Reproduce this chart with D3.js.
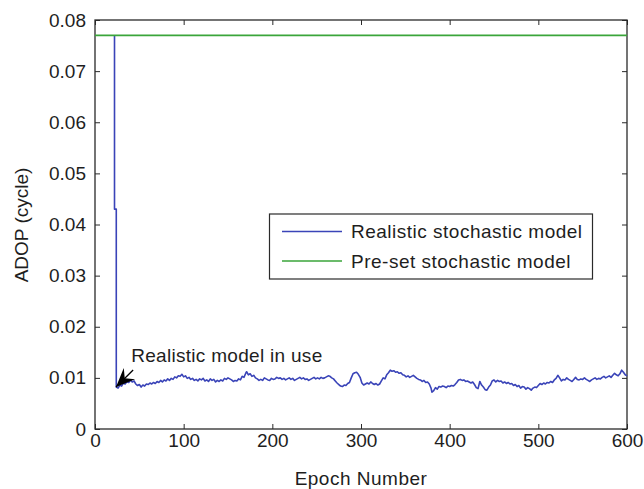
<!DOCTYPE html>
<html>
<head>
<meta charset="utf-8">
<script src="https://cdn.jsdelivr.net/npm/d3@7"></script>
<style>
  html, body { margin: 0; padding: 0; background: #fff; }
  svg { display: block; font-family: "Liberation Sans", Arial, sans-serif; }
</style>
</head>
<body>
<svg id="chart" width="644" height="489"></svg>
<script>
// ---------------- data ----------------
const xTicks = [0, 100, 200, 300, 400, 500, 600];
const yTicks = [0, 0.01, 0.02, 0.03, 0.04, 0.05, 0.06, 0.07, 0.08];
const seriesNames = ["Realistic stochastic model", "Pre-set stochastic model"];
const presetEpochs = [0, 600];
const presetValues = [0.077, 0.077];
const epochs = [22, 22, 24,
  24,26,28,30,32,34,36,38,40,42,44,46,48,50,52,54,56,58,60,62,64,66,68,70,72,74,76,78,80,82,84,86,88,90,92,94,96,98,
  100,102,104,106,108,110,112,114,116,118,120,122,124,126,128,130,132,134,136,138,140,142,144,146,148,150,152,154,156,158,
  160,162,164,166,168,170,171,173,175,177,179,181,183,185,187,189,191,193,195,197,199,201,203,205,207,209,211,213,215,217,
  219,221,223,225,227,229,231,233,235,237,239,241,243,245,247,249,251,253,255,257,259,261,263,265,267,269,271,273,275,277,
  279,281,283,285,287,289,291,293,295,297,299,301,303,305,307,309,311,313,315,317,319,321,323,325,327,329,331,333,335,337,
  339,341,343,345,347,349,351,353,355,357,359,361,363,365,367,369,371,373,375,377,379,380,382,384,386,388,390,392,394,396,
  398,400,402,404,406,408,410,412,414,416,418,420,422,424,426,428,430,432,434,436,438,440,442,444,446,448,450,452,454,456,
  458,460,462,464,466,468,470,472,474,476,478,480,482,484,486,488,490,492,494,496,498,500,502,504,506,508,510,512,514,516,
  518,520,522,524,526,528,530,532,534,536,538,540,542,544,546,548,550,552,554,556,558,560,562,564,566,568,570,572,574,576,
  578,580,582,584,586,588,590,592,594,596,598,600];
const adop = [0.077, 0.043, 0.043,
  0.0082,0.0080,0.0086,0.0084,0.0090,0.0088,0.0093,0.0091,0.0096,0.0092,0.0094,0.0088,0.0085,0.0087,0.0082,0.0086,0.0084,0.0088,0.0087,0.0090,0.0088,0.0091,0.0089,0.0093,0.0091,0.0095,0.0092,0.0096,0.0094,0.0098,0.0095,0.0099,0.0097,0.0102,0.0100,0.0104,0.0103,0.0107,
  0.0102,0.0104,0.0099,0.0101,0.0097,0.0099,0.0095,0.0097,0.0094,0.0098,0.0096,0.0099,0.0094,0.0096,0.0093,0.0098,0.0095,0.0097,0.0092,0.0095,0.0093,0.0096,0.0094,0.0099,0.0097,0.0100,0.0098,0.0096,0.0093,0.0095,
  0.0094,0.0098,0.0096,0.0103,0.0101,0.0109,0.0112,0.0106,0.0108,0.0103,0.0105,0.0100,0.0098,0.0095,0.0097,0.0095,0.0100,0.0098,0.0096,0.0095,0.0099,0.0097,0.0098,0.0101,0.0099,0.0100,0.0097,0.0099,0.0096,0.0098,
  0.0100,0.0097,0.0099,0.0095,0.0097,0.0099,0.0101,0.0098,0.0100,0.0097,0.0098,0.0095,0.0097,0.0099,0.0101,0.0098,0.0100,0.0098,0.0101,0.0099,0.0100,0.0102,0.0104,0.0103,0.0100,0.0098,0.0094,0.0090,0.0087,0.0084,
  0.0083,0.0086,0.0085,0.0089,0.0091,0.0100,0.0108,0.0110,0.0111,0.0107,0.0101,0.0090,0.0086,0.0088,0.0090,0.0088,0.0092,0.0089,0.0087,0.0089,0.0086,0.0088,0.0094,0.0100,0.0098,0.0106,0.0110,0.0115,0.0113,0.0114,
  0.0111,0.0112,0.0109,0.0110,0.0106,0.0105,0.0102,0.0104,0.0101,0.0103,0.0105,0.0102,0.0099,0.0097,0.0096,0.0093,0.0095,0.0091,0.0092,0.0088,0.0080,0.0072,0.0075,0.0081,0.0078,0.0083,0.0082,0.0084,0.0083,0.0081,
  0.0084,0.0083,0.0085,0.0084,0.0087,0.0091,0.0096,0.0097,0.0095,0.0096,0.0093,0.0094,0.0092,0.0090,0.0092,0.0087,0.0081,0.0079,0.0093,0.0086,0.0082,0.0077,0.0076,0.0082,0.0086,0.0094,0.0096,0.0092,0.0095,0.0093,
  0.0094,0.0090,0.0092,0.0089,0.0091,0.0088,0.0089,0.0085,0.0087,0.0083,0.0085,0.0080,0.0083,0.0082,0.0078,0.0081,0.0079,0.0076,0.0080,0.0082,0.0081,0.0085,0.0089,0.0087,0.0090,0.0088,0.0091,0.0090,0.0093,0.0091,
  0.0096,0.0099,0.0105,0.0100,0.0094,0.0097,0.0096,0.0100,0.0097,0.0095,0.0093,0.0097,0.0101,0.0097,0.0096,0.0098,0.0097,0.0100,0.0097,0.0095,0.0093,0.0096,0.0098,0.0100,0.0097,0.0099,0.0098,0.0101,0.0103,0.0100,
  0.0102,0.0104,0.0101,0.0105,0.0109,0.0106,0.0104,0.0108,0.0115,0.0111,0.0106,0.0104];
const annotationText = "Realistic model in use";
const arrowTail = [43, 0.01155];
const arrowTip = [23.7, 0.0082];

// ---------------- chart ----------------
const svg = d3.select("#chart");
const L = 95, R = 627, T = 20, B = 429;
const x = d3.scaleLinear().domain([0, 600]).range([L, R]);
const y = d3.scaleLinear().domain([0, 0.08]).range([B, T]);
const axisColor = "#2a2a2a";
const textColor = "#1e1e1e";
const fs = "19px";
const blue = "#3a44b8";
const green = "#3aa53a";

svg.append("rect").attr("width", 644).attr("height", 489).attr("fill", "#fff");

const yFmt = d => d === 0 ? "0" : d3.format(".2f")(d);

function styleAxis(g, labels) {
  g.select(".domain").remove();
  g.selectAll(".tick line").attr("stroke", axisColor).attr("stroke-width", 1);
  g.selectAll(".tick text").attr("fill", textColor).style("font-size", fs);
  if (!labels) g.selectAll(".tick text").remove();
}

svg.append("g").attr("transform", `translate(0,${B})`)
  .call(d3.axisBottom(x).tickValues(xTicks).tickSizeInner(-5).tickSizeOuter(0).tickPadding(5))
  .call(g => styleAxis(g, true));
svg.append("g").attr("transform", `translate(0,${T})`)
  .call(d3.axisTop(x).tickValues(xTicks).tickSizeInner(-5).tickSizeOuter(0))
  .call(g => styleAxis(g, false));
svg.append("g").attr("transform", `translate(${L},0)`)
  .call(d3.axisLeft(y).tickValues(yTicks).tickFormat(yFmt).tickSizeInner(-5).tickSizeOuter(0).tickPadding(9))
  .call(g => styleAxis(g, true));
svg.append("g").attr("transform", `translate(${R},0)`)
  .call(d3.axisRight(y).tickValues(yTicks).tickSizeInner(-5).tickSizeOuter(0))
  .call(g => styleAxis(g, false));

// box
svg.append("rect").attr("x", L).attr("y", T).attr("width", R - L).attr("height", B - T)
  .attr("fill", "none").attr("stroke", axisColor).attr("stroke-width", 1.3);

const line = d3.line().x(d => x(d[0])).y(d => y(d[1]));

const realistic = epochs.map((e, i) => [e, adop[i]]);
const preset = presetEpochs.map((e, i) => [e, presetValues[i]]);

svg.append("path").datum(realistic).attr("d", line)
  .attr("fill", "none").attr("stroke", blue).attr("stroke-width", 1.6).attr("stroke-linejoin", "round");
svg.append("path").datum(preset).attr("d", line)
  .attr("fill", "none").attr("stroke", green).attr("stroke-width", 1.7);

// annotation arrow
const tx = x(arrowTail[0]), ty = y(arrowTail[1]);
const px = x(arrowTip[0]), py = y(arrowTip[1]);
svg.append("line").attr("x1", tx).attr("y1", ty).attr("x2", px).attr("y2", py)
  .attr("stroke", "#000").attr("stroke-width", 1.3);
{
  const dx = px - tx, dy = py - ty, len = Math.hypot(dx, dy);
  const ux = dx / len, uy = dy / len, nx = -uy, ny = ux;
  const hl = 19, hw = 8;
  const w1 = [px - ux * hl + nx * hw, py - uy * hl + ny * hw];
  const w2 = [px - ux * hl - nx * hw, py - uy * hl - ny * hw];
  const notch = [px - ux * hl * 0.65, py - uy * hl * 0.65];
  svg.append("path")
    .attr("d", `M${px},${py}L${w1[0]},${w1[1]}L${notch[0]},${notch[1]}L${w2[0]},${w2[1]}Z`)
    .attr("fill", "#000");
}
svg.append("text").attr("x", x(arrowTail[0]) - 2).attr("y", 362)
  .attr("fill", textColor).style("font-size", fs).style("letter-spacing", "0.3px").text(annotationText);

// legend
const lg = svg.append("g");
lg.append("rect").attr("x", 269.5).attr("y", 214).attr("width", 323).attr("height", 65)
  .attr("fill", "#fff").attr("stroke", axisColor).attr("stroke-width", 1.2);
[blue, green].forEach((c, i) => {
  const yy = 231.5 + i * 29.5;
  lg.append("line").attr("x1", 282).attr("x2", 342).attr("y1", yy).attr("y2", yy)
    .attr("stroke", c).attr("stroke-width", 1.7);
  lg.append("text").attr("x", 351).attr("y", yy).attr("dy", "0.36em")
    .attr("fill", textColor).style("font-size", fs).style("letter-spacing", "0.5px").text(seriesNames[i]);
});

// axis labels
svg.append("text").attr("x", (L + R) / 2).attr("y", 478).attr("dy", "0.36em")
  .attr("text-anchor", "middle").attr("fill", textColor).style("font-size", fs).style("letter-spacing", "0.5px").text("Epoch Number");
svg.append("text").attr("transform", "translate(21,225) rotate(-90)").attr("dy", "0.36em")
  .attr("text-anchor", "middle").attr("fill", textColor).style("font-size", fs).text("ADOP (cycle)");
</script>
</body>
</html>
